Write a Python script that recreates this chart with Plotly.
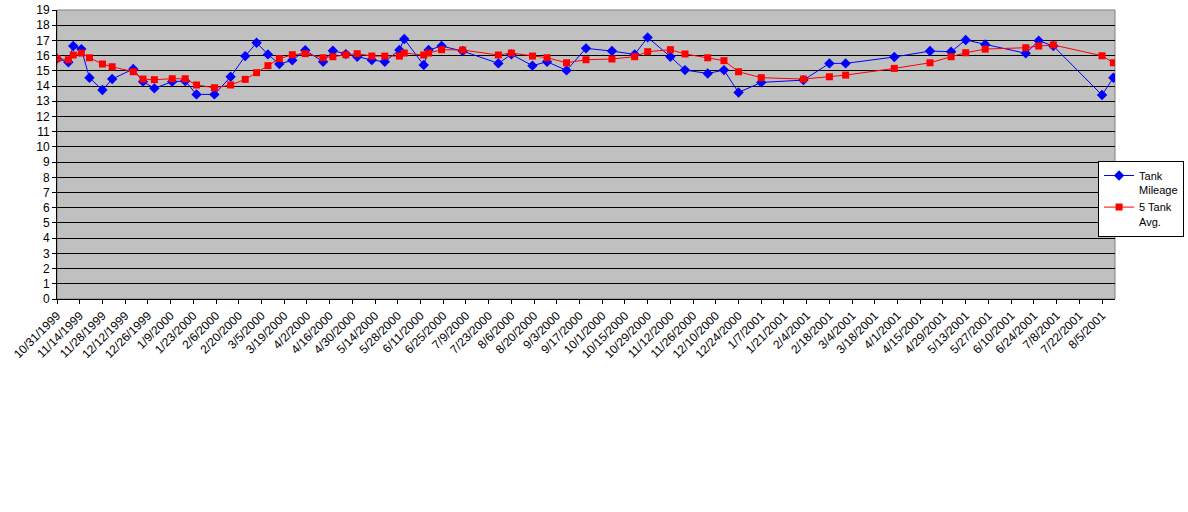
import plotly.graph_objects as go

dates = [
    "1999-10-31", "1999-11-07", "1999-11-10", "1999-11-15", "1999-11-20", "1999-11-28",
    "1999-12-04", "1999-12-17", "1999-12-23", "1999-12-30", "2000-01-10", "2000-01-18",
    "2000-01-25", "2000-02-05", "2000-02-15", "2000-02-24", "2000-03-02", "2000-03-09",
    "2000-03-16", "2000-03-24", "2000-04-01", "2000-04-12", "2000-04-18", "2000-04-26",
    "2000-05-03", "2000-05-12", "2000-05-20", "2000-05-29", "2000-06-01", "2000-06-13",
    "2000-06-16", "2000-06-24", "2000-07-07", "2000-07-29", "2000-08-06", "2000-08-19",
    "2000-08-28", "2000-09-09", "2000-09-21", "2000-10-07", "2000-10-21", "2000-10-29",
    "2000-11-12", "2000-11-21", "2000-12-05", "2000-12-15", "2000-12-24", "2001-01-07",
    "2001-02-02", "2001-02-18", "2001-02-28", "2001-03-30", "2001-04-21", "2001-05-04",
    "2001-05-13", "2001-05-25", "2001-06-19", "2001-06-27", "2001-07-06", "2001-08-05",
    "2001-08-12",
]

tank_mileage = [
    15.80, 15.56, 16.63, 16.43, 14.55, 13.74, 14.46, 15.12, 14.29, 13.85, 14.29, 14.33,
    13.45, 13.45, 14.61, 15.97, 16.85, 16.08, 15.45, 15.69, 16.35, 15.60, 16.32, 16.10,
    15.93, 15.71, 15.60, 16.37, 17.09, 15.38, 16.37, 16.63, 16.30, 15.49, 16.08, 15.34,
    15.60, 15.03, 16.48, 16.30, 16.08, 17.20, 15.93, 15.05, 14.83, 15.05, 13.58, 14.24,
    14.39, 15.49, 15.49, 15.91, 16.30, 16.26, 17.03, 16.74, 16.15, 16.98, 16.63, 13.41,
    14.55,
]

five_tank_avg = [
    15.80, 15.73, 16.04, 16.17, 15.86, 15.45, 15.27, 14.94, 14.46, 14.42, 14.48, 14.48,
    14.07, 13.89, 14.07, 14.44, 14.88, 15.34, 15.80, 16.06, 16.13, 15.86, 15.93, 16.06,
    16.13, 15.97, 15.97, 15.97, 16.17, 16.04, 16.17, 16.39, 16.37, 16.04, 16.17, 15.97,
    15.86, 15.53, 15.73, 15.78, 15.93, 16.26, 16.39, 16.11, 15.86, 15.67, 14.94, 14.55,
    14.46, 14.61, 14.72, 15.16, 15.53, 15.93, 16.19, 16.43, 16.52, 16.63, 16.70, 15.99,
    15.53,
]

series_names = ["Tank<br>Mileage", "5 Tank<br>Avg."]

fig = go.Figure()
fig.add_trace(go.Scatter(
    x=dates, y=tank_mileage, name=series_names[0], mode="lines+markers",
    line=dict(color="#0000FF", width=1),
    marker=dict(symbol="diamond", size=8, color="#0000FF"),
))
fig.add_trace(go.Scatter(
    x=dates, y=five_tank_avg, name=series_names[1], mode="lines+markers",
    line=dict(color="#FF0000", width=1),
    marker=dict(symbol="square", size=7, color="#FF0000"),
))

fig.update_layout(
    width=1188, height=512,
    margin=dict(l=57, r=73, t=10, b=213, autoexpand=False),
    paper_bgcolor="white",
    plot_bgcolor="#C0C0C0",
    font=dict(family="Liberation Sans, Arial, sans-serif", size=12, color="black"),
    showlegend=True,
    legend=dict(
        x=0.984, y=0.478, xanchor="left", yanchor="top",
        bgcolor="white", bordercolor="black", borderwidth=1,
        font=dict(size=11), tracegroupgap=0, itemwidth=30, valign="top",
    ),
)

fig.update_xaxes(
    type="date", automargin=False,
    range=["1999-10-31", "2001-08-13"],
    tick0="1999-10-31", dtick=14 * 86400000,
    tickformat="%-m/%-d/%Y", tickangle=-45,
    tickfont=dict(size=12),
    ticks="outside", ticklen=4, tickcolor="black",
    showgrid=False, zeroline=False,
    showline=True, linecolor="black", linewidth=1,
)
fig.update_yaxes(
    automargin=False,
    range=[0, 19], dtick=1, tick0=0,
    ticks="outside", ticklen=4, tickcolor="black",
    showgrid=True, gridcolor="black", gridwidth=1,
    zeroline=False,
    showline=True, linecolor="black", linewidth=1,
)

fig.add_shape(type="rect", xref="paper", yref="paper", x0=0, y0=0, x1=1, y1=1,
              line=dict(color="#808080", width=1), layer="below")

fig.write_html("out.html", config={"displayModeBar": False},
               post_script="document.body.style.margin='0';")
